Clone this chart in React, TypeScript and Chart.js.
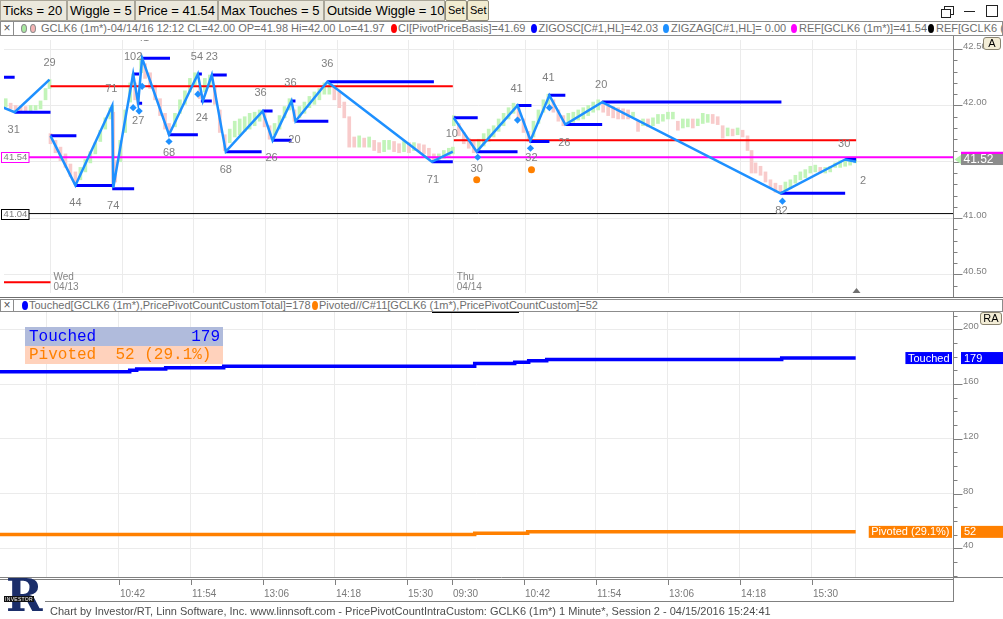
import React, { useEffect, useRef } from "react";
import { Chart, registerables } from "chart.js";

Chart.register(...registerables);

const SANS = '"Liberation Sans", Arial, Helvetica, sans-serif';
const MONO = '"Liberation Mono", "Courier New", monospace';

// ---------------- axes ----------------
// x = minutes from Wed 04/13 09:30 ; each session 09:30-16:14 ; Thu 04/14 09:30 = 405
const X_MIN = -46.7;
const X_MAX = 906.3;
const P_MIN = 40.335;
const P_MAX = 42.581;
const C_MIN = 19.03;
const C_MAX = 212.64;

const gridTimes = [0, 72, 144, 216, 288, 360, 405, 477, 549, 621, 693, 765, 809];
const timeTickValues = [72, 144, 216, 288, 360, 405, 477, 549, 621, 693, 765];
const timeTickLabels = ["10:42", "11:54", "13:06", "14:18", "15:30", "09:30", "10:42", "11:54", "13:06", "14:18", "15:30"];
const dayStarts = [0, 405];
const dayNames = ["Wed", "Thu"];
const dayDates = ["04/13", "04/14"];
const currentBarTime = 809;
const currentPrice = 41.52;

const priceTicks = [40.5, 41.0, 41.5, 42.0, 42.5];
const countTicks = [40, 80, 120, 160, 200];

// ---------------- price bars (5 minute samples of the 1 minute bars) ----------------
const barTimes = [
  -45, -40, -35, -30, -25, -20, -15, -10, -5, -1,
  0, 5, 10, 15, 20, 25, 30, 35, 40, 45, 50, 55, 60, 62, 63, 65, 70, 75, 80, 83, 85, 88, 91, 95, 100, 105, 110, 115, 119,
  125, 130, 135, 140, 145, 150, 155, 160, 165, 170, 175, 180, 185, 190, 195, 200, 205, 210, 215, 220, 225, 230, 235, 240,
  245, 250, 255, 260, 265, 270, 275, 280, 285, 290, 295, 300, 305, 310, 315, 320, 325, 330, 335, 340, 345, 350, 355, 360,
  365, 370, 375, 380, 385, 390, 395, 400, 404,
  405, 410, 415, 420, 425, 430, 435, 440, 445, 450, 455, 460, 465, 470, 475, 480, 485, 490, 495, 500, 505, 510, 515, 520,
  525, 530, 535, 540, 545, 550, 555, 560, 565, 570, 575, 580, 585, 590, 595, 600, 605, 610, 615, 620, 625, 630, 635, 640,
  645, 650, 655, 660, 665, 670, 675, 680, 685, 690, 695, 700, 704, 708, 713, 718, 723, 728, 733, 738, 743, 748, 753, 758,
  763, 768, 773, 778, 783, 788, 793, 798, 803, 808,
];
const barHigh = [
  42.06, 42.02, 42.0, 41.99, 41.99, 42.0, 42.0, 42.04, 42.15, 42.23,
  41.75, 41.69, 41.63, 41.57, 41.48, 41.41, 41.45, 41.52, 41.59, 41.67, 41.78, 41.89, 41.98, 42.0, 41.94, 41.51, 41.69, 41.96, 42.2, 42.28, 42.2, 42.1, 42.42, 42.37, 42.29, 42.18, 42.06, 41.93, 41.84,
  41.93, 42.05, 42.13, 42.24, 42.29, 42.18, 42.24, 42.27, 42.17, 41.96, 41.74, 41.79, 41.86, 41.88, 41.9, 41.93, 41.94, 41.96, 41.93, 41.82, 41.84, 41.91, 41.99, 42.06,
  41.96, 41.99, 42.03, 42.08, 42.12, 42.15, 42.2, 42.2, 42.17, 42.12, 42.03, 41.9, 41.72, 41.73, 41.71, 41.72, 41.69, 41.67, 41.69, 41.69, 41.68, 41.66, 41.68, 41.67,
  41.67, 41.66, 41.65, 41.62, 41.57, 41.57, 41.6, 41.62, 41.63,
  41.91, 41.84, 41.76, 41.71, 41.68, 41.7, 41.75, 41.79, 41.82, 41.88, 41.93, 41.98, 42.02, 41.99, 41.88, 41.77, 41.86, 41.96, 42.05, 42.1, 42.05, 41.96, 41.91, 41.93,
  41.94, 41.96, 41.98, 42.0, 42.03, 42.05, 42.04, 42.01, 41.99, 41.98, 41.97, 41.96, 41.94, 41.86, 41.88, 41.88, 41.89, 41.92, 41.92, 41.94, 41.94, 41.86, 41.88, 41.88,
  41.88, 41.88, 41.93, 41.92, 41.92, 41.9, 41.82, 41.8, 41.79, 41.8, 41.78, 41.73, 41.6, 41.49, 41.46, 41.41, 41.34, 41.31, 41.29, 41.32, 41.34, 41.38, 41.41, 41.43,
  41.46, 41.47, 41.45, 41.45, 41.46, 41.49, 41.51, 41.51, 41.52, 41.53,
];
const barLow = [
  41.99, 41.97, 41.95, 41.95, 41.94, 41.95, 41.96, 41.97, 42.05, 42.15,
  41.66, 41.58, 41.51, 41.45, 41.37, 41.3, 41.34, 41.41, 41.49, 41.57, 41.68, 41.79, 41.88, 41.93, 41.27, 41.32, 41.5, 41.76, 42.03, 42.18, 42.05, 42.01, 42.29, 42.24, 42.15, 42.05, 41.91, 41.79, 41.74,
  41.81, 41.93, 42.01, 42.12, 42.18, 42.06, 42.12, 42.17, 42.01, 41.76, 41.6, 41.67, 41.72, 41.74, 41.77, 41.79, 41.82, 41.86, 41.81, 41.7, 41.74, 41.79, 41.89, 41.96,
  41.86, 41.89, 41.93, 41.98, 42.01, 42.05, 42.1, 42.1, 42.05, 41.98, 41.89, 41.63, 41.63, 41.63, 41.63, 41.63, 41.6, 41.58, 41.59, 41.61, 41.59, 41.58, 41.59, 41.58,
  41.6, 41.59, 41.57, 41.53, 41.5, 41.51, 41.53, 41.55, 41.57,
  41.82, 41.73, 41.66, 41.62, 41.58, 41.6, 41.64, 41.68, 41.72, 41.77, 41.82, 41.88, 41.93, 41.88, 41.76, 41.68, 41.72, 41.84, 41.94, 42.01, 41.94, 41.86, 41.82, 41.82,
  41.85, 41.87, 41.88, 41.91, 41.94, 41.96, 41.94, 41.91, 41.89, 41.88, 41.88, 41.88, 41.9, 41.77, 41.82, 41.81, 41.82, 41.84, 41.86, 41.88, 41.88, 41.78, 41.8, 41.81,
  41.8, 41.82, 41.84, 41.85, 41.84, 41.83, 41.71, 41.73, 41.73, 41.74, 41.72, 41.6, 41.4, 41.4, 41.38, 41.32, 41.27, 41.23, 41.22, 41.25, 41.26, 41.31, 41.34, 41.36,
  41.4, 41.41, 41.4, 41.4, 41.41, 41.45, 41.45, 41.46, 41.47, 41.49,
];

// ---------------- ZigZag (null = session break) ----------------
const zigzagTimes = [-47, -36, -1, -1, 0, 25, 62, 63, 83, 88, 92, 119, 148, 153, 162, 176, 213, 223, 242, 246, 278, 383, 404, 404, 405, 428, 469, 482, 501, 517, 554, 733, 798, 809];
const zigzagPrices = [41.98, 41.94, 42.23, null, 41.73, 41.29, 42.0, 41.27, 42.28, 42.02, 42.42, 41.74, 42.28, 42.04, 42.27, 41.59, 41.95, 41.69, 42.04, 41.86, 42.21, 41.5, 41.59, null, 41.89, 41.59, 42.0, 41.69, 42.09, 41.83, 42.03, 41.22, 41.52, 41.5];

// ---------------- pivot levels (ZIGOSC) ----------------
const levelStart = [-47, -36, 0, 25, 62, 83, 88, 92, 119, 148, 151, 162, 176, 213, 223, 242, 246, 278, 383, 405, 428, 468, 481, 500, 517, 554, 733, 798];
const levelEnd = [-36, 0, 26, 62, 84, 89, 92, 120, 148, 152, 162, 177, 212, 223, 242, 246, 279, 385, 404, 429, 469, 483, 501, 517, 554, 734, 798, 809];
const levelPrice = [42.25, 41.94, 41.73, 41.29, 41.26, 42.28, 42.02, 42.42, 41.74, 42.28, 42.04, 42.27, 41.59, 41.95, 41.69, 42.04, 41.86, 42.21, 41.5, 41.89, 41.59, 42.0, 41.68, 42.09, 41.83, 42.03, 41.22, 41.52];

// ---------------- CI[PivotPriceBasis] ----------------
const basisStart = [-47, 0, 405];
const basisEnd = [0, 404, 809];
const basisPrice = [40.43, 42.17, 41.69];

// ---------------- references ----------------
const refMagenta = 41.54;
const refBlack = 41.04;

// ---------------- touch counts ----------------
const pivotLabelText = ["31", "29", "44", "71", "74", "102", "41", "27", "68", "54", "24", "23", "68", "36", "26", "36", "20", "36", "71", "10", "30", "41", "32", "41", "26", "20", "82", "30", "2"];
const pivotLabelTime = [-37, -1, 25, 61, 63, 83, 93, 88, 119, 147, 152, 162, 176, 211, 222, 241, 245, 278, 384, 403, 428, 468, 483, 500, 516, 553, 734, 797, 816];
const pivotLabelPrice = [41.78, 42.38, 41.13, 42.15, 41.11, 42.43, 42.6, 41.86, 41.58, 42.43, 41.89, 42.43, 41.43, 42.11, 41.53, 42.2, 41.69, 42.37, 41.34, 41.75, 41.44, 42.15, 41.53, 42.24, 41.67, 42.18, 41.06, 41.66, 41.33];

const diamondTimes = [83, 89, 92, 119, 148, 429, 469, 482, 501, 735];
const diamondPrices = [41.98, 41.95, 42.17, 41.68, 42.1, 41.54, 41.87, 41.62, 41.98, 41.15];
const pivotDotTimes = [428, 483];
const pivotDotPrices = [41.34, 41.43];

// ---------------- lower pane ----------------
const touchedTimes = [-47, 83, 90, 119, 177, 428, 468, 482, 500, 735, 809];
const touchedValues = [169, 170, 171, 172, 173, 175, 176, 177, 178, 179, 179];
const pivotedTimes = [-47, 428, 481, 809];
const pivotedValues = [50, 51, 52, 52];

// ---------------- helpers ----------------
const segs = (s: number[], e: number[], v: number[]) => {
  const out: any[] = [];
  s.forEach((st, i) => {
    out.push({ x: st, y: v[i] }, { x: e[i], y: v[i] }, { x: e[i], y: null });
  });
  return out;
};
const barColors = barTimes.map((_, i) => {
  const mid = (barHigh[i] + barLow[i]) / 2;
  const prev = i > 0 ? (barHigh[i - 1] + barLow[i - 1]) / 2 : mid;
  return mid >= prev ? "#c2f4b9" : "#f8cbcb";
});
function hl(ctx: CanvasRenderingContext2D, x1: number, x2: number, y: number) {
  ctx.beginPath();
  ctx.moveTo(x1, y);
  ctx.lineTo(x2, y);
  ctx.stroke();
}
function vl(ctx: CanvasRenderingContext2D, x: number, y1: number, y2: number) {
  ctx.beginPath();
  ctx.moveTo(x, y1);
  ctx.lineTo(x, y2);
  ctx.stroke();
}

const topDecor = {
  id: "topDecor",
  afterDraw(chart: any) {
    const { ctx, chartArea: a } = chart;
    const x = chart.scales.x;
    const y = chart.scales.y;
    ctx.save();
    ctx.beginPath();
    ctx.rect(a.left, a.top, a.right - a.left, a.bottom - a.top);
    ctx.clip();
    ctx.font = `11px ${SANS}`;
    ctx.fillStyle = "#7f7f7f";
    ctx.textAlign = "center";
    ctx.textBaseline = "middle";
    pivotLabelText.forEach((t, i) => {
      ctx.fillText(t, x.getPixelForValue(pivotLabelTime[i]), y.getPixelForValue(pivotLabelPrice[i]));
    });
    ctx.font = `10px ${SANS}`;
    ctx.textAlign = "left";
    ctx.fillStyle = "#858585";
    dayStarts.forEach((d, i) => {
      const px = x.getPixelForValue(d) + 3;
      ctx.fillText(dayNames[i], px, a.bottom - 16);
      ctx.fillText(dayDates[i], px, a.bottom - 6);
    });
    const cb = Math.round(x.getPixelForValue(currentBarTime)) + 0.5;
    ctx.fillStyle = "#707070";
    ctx.beginPath();
    ctx.moveTo(cb - 4, a.bottom);
    ctx.lineTo(cb + 4, a.bottom);
    ctx.lineTo(cb, a.bottom - 5);
    ctx.closePath();
    ctx.fill();
    ctx.restore();

    ctx.save();
    [
      [refMagenta, "#ff00ff"],
      [refBlack, "#000000"],
    ].forEach(([v, c]: any) => {
      const py = Math.round(y.getPixelForValue(v));
      ctx.fillStyle = "#ffffff";
      ctx.fillRect(1, py - 4, 28, 9);
      ctx.strokeStyle = c;
      ctx.lineWidth = 1;
      ctx.strokeRect(1.5, py - 4.5, 27.5, 10);
      ctx.fillStyle = "#808080";
      ctx.font = `9.5px ${SANS}`;
      ctx.textAlign = "center";
      ctx.textBaseline = "middle";
      ctx.fillText(v.toFixed(2), 15.5, py + 0.5);
    });

    const ax = Math.round(a.right) + 0.5;
    ctx.strokeStyle = "#808080";
    ctx.lineWidth = 1;
    vl(ctx, ax, 0, chart.height);
    for (let k = Math.ceil(P_MIN * 10); k <= Math.floor(P_MAX * 10); k++) {
      const py = Math.round(y.getPixelForValue(k / 10)) + 0.5;
      hl(ctx, ax, ax + (k % 5 === 0 ? 9 : 4), py);
    }
    ctx.fillStyle = "#808080";
    ctx.font = `9.5px ${SANS}`;
    ctx.textAlign = "left";
    ctx.textBaseline = "alphabetic";
    priceTicks.forEach((v) => ctx.fillText(v.toFixed(2), ax + 9.5, Math.round(y.getPixelForValue(v))));

    const pm = y.getPixelForValue(refMagenta);
    ctx.fillStyle = "#ff00ff";
    ctx.fillRect(ax + 7.5, pm - 5.5, chart.width - ax, 11);
    const pc = y.getPixelForValue(currentPrice);
    ctx.fillStyle = "#8c8c8c";
    ctx.fillRect(ax + 7.5, pc - 5.5, chart.width - ax, 11);
    ctx.fillStyle = "#b6f0ae";
    ctx.beginPath();
    ctx.moveTo(ax + 1, pc);
    ctx.lineTo(ax + 7.5, pc - 4.5);
    ctx.lineTo(ax + 7.5, pc + 4.5);
    ctx.closePath();
    ctx.fill();
    ctx.fillStyle = "#ffffff";
    ctx.font = `12px ${SANS}`;
    ctx.textBaseline = "middle";
    ctx.fillText(currentPrice.toFixed(2), ax + 10, pc + 0.5);
    ctx.restore();
  },
};

const bottomDecor = {
  id: "bottomDecor",
  afterDraw(chart: any) {
    const { ctx, chartArea: a } = chart;
    const x = chart.scales.x;
    const y = chart.scales.y;
    const ax = Math.round(a.right) + 0.5;
    ctx.save();
    ctx.strokeStyle = "#808080";
    ctx.lineWidth = 1;
    hl(ctx, 0, chart.width, Math.round(a.bottom) + 0.5);
    hl(ctx, 0, ax, Math.round(a.bottom) + 2.5);
    hl(ctx, 45, ax, chart.height - 0.5);
    vl(ctx, ax, 0, chart.height);
    for (let v = 20; v <= 210; v += 10) {
      const py = Math.round(y.getPixelForValue(v)) + 0.5;
      hl(ctx, ax, ax + (v % 40 === 0 ? 9 : 4), py);
    }
    ctx.fillStyle = "#808080";
    ctx.font = `9.5px ${SANS}`;
    ctx.textAlign = "left";
    ctx.textBaseline = "alphabetic";
    countTicks.forEach((v) => ctx.fillText(String(v), ax + 9.5, Math.round(y.getPixelForValue(v))));

    ctx.font = `10px ${SANS}`;
    ctx.fillStyle = "#7a7a7a";
    ctx.textBaseline = "middle";
    timeTickValues.forEach((t, i) => {
      const px = Math.round(x.getPixelForValue(t)) + 0.5;
      vl(ctx, px, a.bottom + 3, a.bottom + 8);
      ctx.fillText(timeTickLabels[i], px + 0.5, a.bottom + 17);
    });

    const lastT = touchedValues[touchedValues.length - 1];
    const lastP = pivotedValues[pivotedValues.length - 1];
    const pct = ((lastP / lastT) * 100).toFixed(1);
    ctx.font = `11px ${SANS}`;
    const drawTag = (text: string, val: number, color: string) => {
      const py = y.getPixelForValue(val);
      const w = ctx.measureText(text).width + 5;
      ctx.fillStyle = color;
      ctx.fillRect(ax - 1.5 - w, py - 6, w, 12);
      ctx.fillRect(ax + 7.5, py - 6, chart.width - ax, 12);
      ctx.fillStyle = "#ffffff";
      ctx.textAlign = "left";
      ctx.textBaseline = "middle";
      ctx.fillText(text, ax - 1.5 - w + 2.5, py + 0.5);
      ctx.fillText(String(val), ax + 10.5, py + 0.5);
    };
    drawTag("Touched", lastT, "#0000ff");
    drawTag(`Pivoted (${pct}%)`, lastP, "#ff8000");

    ctx.fillStyle = "#b0bbdc";
    ctx.fillRect(25, 15, 198, 19);
    ctx.fillStyle = "#ffd2bc";
    ctx.fillRect(25, 34, 198, 18);
    ctx.font = `16px ${MONO}`;
    ctx.textBaseline = "middle";
    ctx.fillStyle = "#0000ff";
    ctx.textAlign = "left";
    ctx.fillText("Touched", 29, 25);
    ctx.textAlign = "right";
    ctx.fillText(String(lastT), 220, 25);
    ctx.fillStyle = "#ff8000";
    ctx.textAlign = "left";
    ctx.fillText(`Pivoted  ${lastP} (${pct}%)`, 29, 43);
    ctx.restore();
  },
};

function xScale(height: number) {
  return {
    type: "linear",
    min: X_MIN,
    max: X_MAX,
    offset: false,
    bounds: "data",
    afterBuildTicks: (s: any) => {
      s.ticks = gridTimes.map((v) => ({ value: v }));
    },
    afterFit: (s: any) => {
      s.height = height;
    },
    ticks: { display: false },
    grid: { color: "#ebebeb", drawTicks: false, offset: false },
    border: { display: false },
  };
}

export default function App() {
  const topRef = useRef<HTMLCanvasElement>(null);
  const botRef = useRef<HTMLCanvasElement>(null);

  useEffect(() => {
    const line = (data: any[], color: string, width: number, order: number, extra: any = {}) => ({
      type: "line",
      data,
      borderColor: color,
      borderWidth: width,
      pointRadius: 0,
      fill: false,
      tension: 0,
      spanGaps: false,
      order,
      ...extra,
    });
    const top = new Chart(topRef.current as HTMLCanvasElement, {
      type: "line",
      data: {
        datasets: [
          {
            type: "bar",
            data: barTimes.map((t, i) => ({ x: t, y: [barLow[i], barHigh[i]] })),
            backgroundColor: barColors,
            barThickness: 3,
            borderWidth: 0,
            grouped: false,
            order: 10,
          } as any,
          line(segs(basisStart, basisEnd, basisPrice), "#ff0000", 2, 6),
          line([{ x: X_MIN, y: refMagenta }, { x: X_MAX, y: refMagenta }], "#ff00ff", 2, 7),
          line([{ x: X_MIN, y: refBlack }, { x: X_MAX, y: refBlack }], "#000000", 1, 7),
          line(segs(levelStart, levelEnd, levelPrice), "#0000ff", 3, 4),
          line(zigzagTimes.map((t, i) => ({ x: t, y: zigzagPrices[i] })), "#1e90ff", 2.5, 3),
          line(diamondTimes.map((t, i) => ({ x: t, y: diamondPrices[i] })), "#1e90ff", 0, 1, {
            showLine: false,
            pointRadius: 3.6,
            pointStyle: "rectRot",
            pointBackgroundColor: "#1e90ff",
            pointBorderWidth: 0,
          }),
          line(pivotDotTimes.map((t, i) => ({ x: t, y: pivotDotPrices[i] })), "#ff8000", 0, 1, {
            showLine: false,
            pointRadius: 3.5,
            pointStyle: "circle",
            pointBackgroundColor: "#ff8000",
            pointBorderWidth: 0,
          }),
        ] as any,
      },
      options: {
        responsive: false,
        animation: false,
        devicePixelRatio: 1,
        events: [],
        layout: { padding: 0 },
        plugins: { legend: { display: false }, tooltip: { enabled: false } },
        scales: {
          x: xScale(0) as any,
          y: {
            type: "linear",
            position: "right",
            min: P_MIN,
            max: P_MAX,
            bounds: "data",
            afterBuildTicks: (s: any) => {
              s.ticks = priceTicks.map((v) => ({ value: v }));
            },
            afterFit: (s: any) => {
              s.width = 50;
            },
            ticks: { display: false },
            grid: { color: "#ebebeb", drawTicks: false },
            border: { display: false },
          } as any,
        },
      },
      plugins: [topDecor],
    });

    const bot = new Chart(botRef.current as HTMLCanvasElement, {
      type: "line",
      data: {
        datasets: [
          line(touchedTimes.map((t, i) => ({ x: t, y: touchedValues[i] })), "#0000ff", 3.5, 2, { stepped: "before" }),
          line(pivotedTimes.map((t, i) => ({ x: t, y: pivotedValues[i] })), "#ff8000", 3.5, 2, { stepped: "before" }),
        ] as any,
      },
      options: {
        responsive: false,
        animation: false,
        devicePixelRatio: 1,
        events: [],
        layout: { padding: 0 },
        plugins: { legend: { display: false }, tooltip: { enabled: false } },
        scales: {
          x: xScale(25) as any,
          y: {
            type: "linear",
            position: "right",
            min: C_MIN,
            max: C_MAX,
            bounds: "data",
            afterBuildTicks: (s: any) => {
              s.ticks = countTicks.map((v) => ({ value: v }));
            },
            afterFit: (s: any) => {
              s.width = 50;
            },
            ticks: { display: false },
            grid: { color: "#ebebeb", drawTicks: false },
            border: { display: false },
          } as any,
        },
      },
      plugins: [bottomDecor],
    });
    return () => {
      top.destroy();
      bot.destroy();
    };
  }, []);

  const btn = (left: number, width: number, text: string, set = false) => (
    <div
      key={left}
      style={{
        position: "absolute",
        left,
        top: 0,
        width,
        height: 21,
        boxSizing: "border-box",
        background: set ? "#f1ecd0" : "#ebe8dc",
        border: set ? "1px solid #8e8a78" : "1px solid #aaa699",
        borderRadius: set ? 2 : 0,
        font: `${set ? 11 : 13}px ${SANS}`,
        color: "#000",
        lineHeight: "19px",
        paddingLeft: 2,
        whiteSpace: "nowrap",
        overflow: "hidden",
      }}
    >
      {text}
    </div>
  );

  const dot = (left: number, color: string, border = "none") => (
    <span
      style={{
        position: "absolute",
        left,
        top: 2,
        width: 6,
        height: 9,
        borderRadius: "50%",
        background: color,
        border,
        boxSizing: "border-box",
      }}
    />
  );
  const htext = (left: number, text: string) => (
    <span style={{ position: "absolute", left, top: 0, lineHeight: "13px", whiteSpace: "nowrap" }}>{text}</span>
  );
  const xbox = (
    <span
      style={{
        position: "absolute",
        left: 0,
        top: 0,
        width: 13,
        height: 13,
        boxSizing: "border-box",
        borderRight: "1px solid #8c8c8c",
        textAlign: "center",
        lineHeight: "12px",
        fontSize: 12,
        color: "#555",
      }}
    >
      ×
    </span>
  );

  return (
    <div
      style={{
        position: "absolute",
        left: 0,
        top: 0,
        width: 1003,
        height: 619,
        background: "#ffffff",
        overflow: "hidden",
        fontFamily: SANS,
      }}
    >
      {btn(0, 67, "Ticks = 20")}
      {btn(67, 68, "Wiggle = 5")}
      {btn(135, 83, "Price = 41.54")}
      {btn(218, 106, "Max Touches = 5")}
      {btn(324, 121, "Outside Wiggle = 10")}
      {btn(445, 22, "Set", true)}
      {btn(467, 22, "Set", true)}
      <div style={{ position: "absolute", left: 944, top: 6, width: 8, height: 7, border: "1px solid #222" }} />
      <div style={{ position: "absolute", left: 941, top: 9, width: 8, height: 7, border: "1px solid #222", background: "#fff" }} />
      <div style={{ position: "absolute", left: 964, top: 11, width: 11, height: 1, background: "#222" }} />
      <div style={{ position: "absolute", left: 986, top: 5, width: 10, height: 10, border: "1px solid #222" }} />

      <div
        style={{
          position: "absolute",
          left: 0,
          top: 21,
          width: 1003,
          height: 15,
          boxSizing: "border-box",
          border: "1px solid #8c8c8c",
          background: "#fff",
          fontSize: 11,
          color: "#6e6e6e",
          overflow: "hidden",
        }}
      >
        {xbox}
        {dot(20, "#a8e8a0", "1px solid #8a8a8a")}
        {dot(29, "#f4b4b4", "1px solid #8a8a8a")}
        {htext(40, "GCLK6 (1m*)-04/14/16 12:12 CL=42.00 OP=41.98 Hi=42.00 Lo=41.97")}
        {dot(390, "#ff0000")}
        {htext(397, "CI[PivotPriceBasis]=41.69")}
        {dot(530, "#0000ff")}
        {htext(537.5, "ZIGOSC[C#1,HL]=42.03")}
        {dot(662, "#1e90ff")}
        {htext(670, "ZIGZAG[C#1,HL]= 0.00")}
        {dot(790, "#ff00ff")}
        {htext(798, "REF[GCLK6 (1m*)]=41.54")}
        {dot(927, "#000000")}
        {htext(935, "REF[GCLK6 (1m*)]=41.04")}
      </div>

      <canvas
        ref={topRef}
        width={1003}
        height={261}
        style={{ position: "absolute", left: 0, top: 36, width: 1003, height: 261 }}
      />
      <div
        style={{
          position: "absolute",
          left: 983,
          top: 37,
          width: 18,
          height: 13,
          boxSizing: "border-box",
          border: "1px solid #8a8470",
          borderRadius: 3,
          background: "#f3edd6",
          fontSize: 11,
          lineHeight: "11px",
          textAlign: "center",
          color: "#000",
        }}
      >
        A
      </div>

      <div style={{ position: "absolute", left: 0, top: 297, width: 1003, height: 1, background: "#6e6e6e" }} />
      <div
        style={{
          position: "absolute",
          left: 0,
          top: 299,
          width: 1003,
          height: 13,
          boxSizing: "border-box",
          border: "1px solid #8c8c8c",
          fontSize: 11,
          color: "#6e6e6e",
          overflow: "hidden",
        }}
      >
        <span
          style={{
            position: "absolute",
            left: 0,
            top: 0,
            width: 13,
            height: 11,
            boxSizing: "border-box",
            borderRight: "1px solid #8c8c8c",
            textAlign: "center",
            lineHeight: "11px",
            fontSize: 12,
            color: "#555",
          }}
        >
          ×
        </span>
        <span style={{ position: "absolute", left: 21, top: 1, width: 6, height: 9, borderRadius: "50%", background: "#0000ff" }} />
        <span style={{ position: "absolute", left: 28, top: -1, lineHeight: "13px", whiteSpace: "nowrap" }}>
          Touched[GCLK6 (1m*),PricePivotCountCustomTotal]=178
        </span>
        <span style={{ position: "absolute", left: 311, top: 1, width: 6, height: 9, borderRadius: "50%", background: "#ff8000" }} />
        <span style={{ position: "absolute", left: 318, top: -1, lineHeight: "13px", whiteSpace: "nowrap" }}>
          Pivoted//C#11[GCLK6 (1m*),PricePivotCountCustom]=52
        </span>
      </div>

      <canvas
        ref={botRef}
        width={1003}
        height={290}
        style={{ position: "absolute", left: 0, top: 312, width: 1003, height: 290 }}
      />
      <div style={{ position: "absolute", left: 432, top: 312, width: 87, height: 1, background: "#000" }} />
      <div
        style={{
          position: "absolute",
          left: 980,
          top: 312,
          width: 22,
          height: 13,
          boxSizing: "border-box",
          border: "1px solid #8a8470",
          borderRadius: 3,
          background: "#f3edd6",
          fontSize: 11,
          lineHeight: "11px",
          textAlign: "center",
          color: "#000",
        }}
      >
        RA
      </div>

      <div
        style={{
          position: "absolute",
          left: 6,
          top: 573,
          width: 36,
          height: 46,
          fontFamily: '"DejaVu Serif", serif',
          fontWeight: "bold",
          fontSize: 44,
          lineHeight: "46px",
          color: "#1b2e6a",
        }}
      >
        R
      </div>
      <div
        style={{
          position: "absolute",
          left: 4,
          top: 596,
          width: 30,
          height: 6,
          background: "#111",
          color: "#fff",
          fontSize: 5,
          lineHeight: "6px",
          textAlign: "center",
          letterSpacing: 0.3,
        }}
      >
        INVESTOR
      </div>
      <div
        style={{
          position: "absolute",
          left: 50,
          top: 604,
          fontSize: 11,
          lineHeight: "14px",
          color: "#4d4d4d",
          whiteSpace: "nowrap",
        }}
      >
        Chart by Investor/RT, Linn Software, Inc. www.linnsoft.com - PricePivotCountIntraCustom: GCLK6 (1m*) 1 Minute*, Session 2 - 04/15/2016 15:24:41
      </div>
    </div>
  );
}
